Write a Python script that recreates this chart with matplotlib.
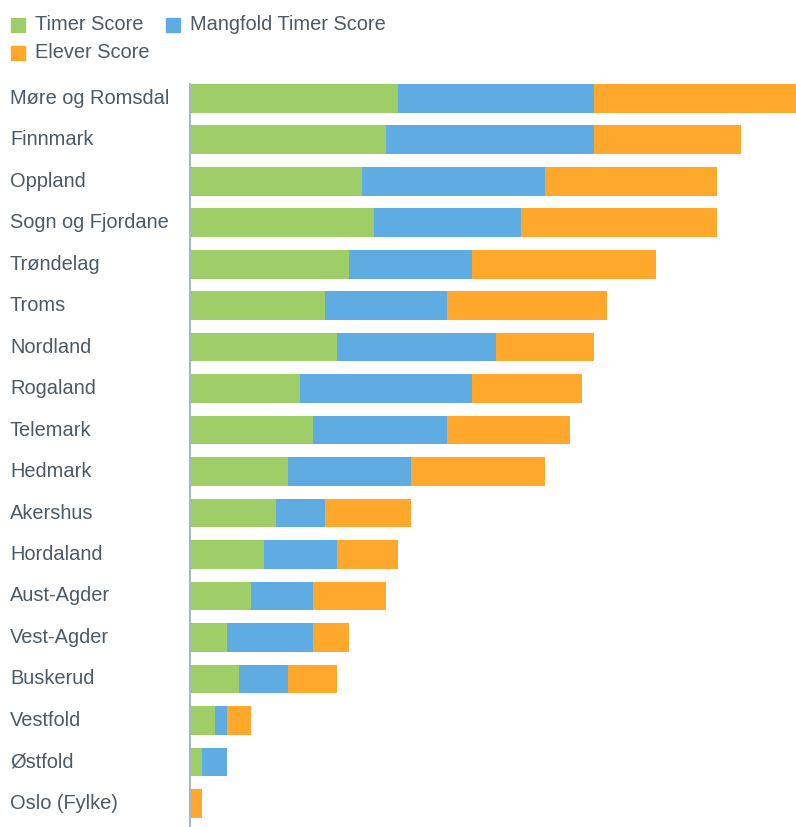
import numpy as np
from matplotlib import pyplot as plt
from matplotlib import transforms
from matplotlib.patches import Rectangle

plt.rcParams['font.family'] = ['Liberation Sans', 'DejaVu Sans']

# Data (top to bottom)
counties = ['Møre og Romsdal', 'Finnmark', 'Oppland', 'Sogn og Fjordane', 'Trøndelag',
            'Troms', 'Nordland', 'Rogaland', 'Telemark', 'Hedmark', 'Akershus',
            'Hordaland', 'Aust-Agder', 'Vest-Agder', 'Buskerud', 'Vestfold',
            'Østfold', 'Oslo (Fylke)']
timer = [17, 16, 14, 15, 13, 11, 12, 9, 10, 8, 7, 6, 5, 3, 4, 2, 1, 0]
mangfold = [16, 17, 15, 12, 10, 10, 13, 14, 11, 10, 4, 6, 5, 7, 4, 1, 2, 0]
elever = [17, 12, 14, 16, 15, 13, 8, 9, 10, 11, 7, 5, 6, 3, 4, 2, 0, 1]
series_names = ['Timer Score', 'Mangfold Timer Score', 'Elever Score']

green = '#9fce69'
blue = '#5eace1'
orange = '#ffa82b'
textcol = '#4b5a66'

W, H = 796, 827
fig = plt.figure(figsize=(W / 100, H / 100), dpi=100)
ax = fig.add_axes([190 / W, 0, 1 - 190 / W, 1 - 84 / H])

y = np.arange(len(counties))
t = np.array(timer)
m = np.array(mangfold)
e = np.array(elever)
bh = 0.69
ax.barh(y, t, height=bh, color=green)
ax.barh(y, m, left=t, height=bh, color=blue)
ax.barh(y, e, left=t + m, height=bh, color=orange)

ax.set_xlim(0, (W - 190) / 12.25)
ax.set_ylim(17.57, -bh / 2)
ax.set_xticks([])
ax.set_yticks([])
for s in ['top', 'right', 'bottom']:
    ax.spines[s].set_visible(False)
ax.spines['left'].set_color('#a9b5c0')
ax.spines['left'].set_linewidth(1.5)

# County labels, left aligned
tr = transforms.blended_transform_factory(fig.transFigure, ax.transData)
for i, name in enumerate(counties):
    ax.text(10 / W, i, name, transform=tr, ha='left', va='center',
            fontsize=14.4, color=textcol)

# Legend drawn by hand
leg = [(11, 25, green, series_names[0]),
       (166, 25, blue, series_names[1]),
       (11, 53, orange, series_names[2])]
for x0, yc, col, lab in leg:
    fig.patches.append(Rectangle((x0 / W, 1 - (yc + 7) / H), 14 / W, 14 / H,
                                 transform=fig.transFigure, color=col))
    fig.text((x0 + 24) / W, 1 - yc / H, lab, ha='left', va='center',
             fontsize=14.4, color=textcol)

plt.savefig('out.png', dpi=100)
